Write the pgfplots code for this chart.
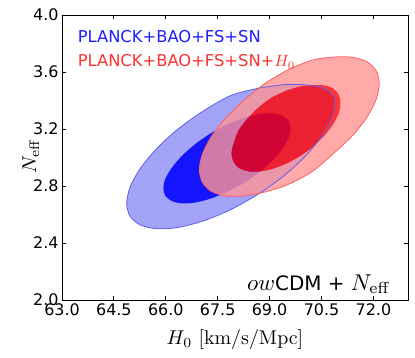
\RequirePackage{fix-cm}
\documentclass[border=0pt]{standalone}
\usepackage[no-math]{fontspec}
\setmainfont{DejaVu Sans}
\usepackage{graphicx}
\usepackage{pgfplots}
\pgfplotsset{compat=1.18}
\definecolor{bOut}{RGB}{163,163,247}
\definecolor{bIn}{RGB}{20,20,255}
\definecolor{bLine}{RGB}{95,95,240}
\definecolor{rOut}{RGB}{255,148,148}
\definecolor{rIn}{RGB}{255,0,0}
\definecolor{rLine}{RGB}{255,95,95}
\definecolor{txtBlue}{RGB}{30,30,255}
\definecolor{txtRed}{RGB}{255,50,50}
% math set at 10pt, scaled up to the reference sizes
\newcommand{\bigmath}[2]{\scalebox{#1}{\normalsize$#2$}}

\begin{document}
\begin{tikzpicture}
\useasboundingbox (-62bp,-58bp) rectangle (353bp,300bp);
\begin{axis}[
    at={(0,0)}, anchor=south west,
    scale only axis, width=346bp, height=285bp,
    xmin=63, xmax=73, ymin=2, ymax=4,
    xtick={63,64.5,66,67.5,69,70.5,72},
    xticklabels={63.0,64.5,66.0,67.5,69.0,70.5,72.0},
    ytick={2,2.4,2.8,3.2,3.6,4},
    yticklabels={2.0,2.4,2.8,3.2,3.6,4.0},
    tick align=inside, major tick length=4bp,
    tick style={black, line width=0.8bp},
    axis line style={line width=0.9bp},
    ticklabel style={font=\fontsize{16}{16}\selectfont},
    xlabel={\bigmath{2.0}{H_0\ [\mathrm{km/s/Mpc}]}},
    ylabel={\bigmath{2.0}{N_{\mathrm{eff}}}},
    xlabel style={at={(axis description cs:0.5,-0.14)}, anchor=center},
    ylabel style={at={(axis description cs:-0.09,0.505)}, anchor=center},
]
% PLANCK+BAO+FS+SN: 95% and 68% regions
\addplot[draw=none, fill=bOut, smooth] coordinates {
 (69.39,3.511) (70.01,3.511) (70.49,3.492) (70.79,3.450) (70.89,3.392)
 (70.79,3.276) (70.49,3.144) (70.01,3.004) (69.39,2.867) (68.66,2.741)
 (67.88,2.635) (67.10,2.556) (66.37,2.510) (65.75,2.500) (65.27,2.526)
 (64.97,2.587) (64.87,2.678) (64.97,2.794) (65.27,2.926) (65.75,3.066)
 (66.37,3.203) (67.10,3.329) (67.88,3.435) (68.66,3.485) (69.39,3.511)};
\addplot[draw=none, fill=bIn, smooth] coordinates {
 (67.77,3.230) (68.25,3.277) (68.69,3.304) (69.07,3.310) (69.36,3.295)
 (69.55,3.258) (69.61,3.205) (69.55,3.136) (69.36,3.058) (69.07,2.976)
 (68.69,2.895) (68.25,2.820) (67.77,2.758) (67.29,2.711) (66.85,2.684)
 (66.47,2.678) (66.18,2.694) (65.99,2.730) (65.93,2.784) (65.99,2.852)
 (66.18,2.930) (66.47,3.012) (66.85,3.094) (67.29,3.168) (67.77,3.230)};
% PLANCK+BAO+FS+SN+H0: 95% band (with hole) and 68% region
\addplot[draw=none, fill=rOut, fill opacity=0.8, even odd rule, smooth,
    unbounded coords=jump] coordinates {
 (69.57,3.621) (70.24,3.684) (70.87,3.705) (71.41,3.703) (71.82,3.671)
 (72.08,3.608) (72.17,3.518) (72.08,3.408) (71.82,3.285) (71.41,3.157)
 (70.87,3.033) (70.24,2.903) (69.57,2.814) (68.90,2.760) (68.27,2.731)
 (67.73,2.730) (67.32,2.762) (67.06,2.825) (66.97,2.915) (67.06,3.025)
 (67.32,3.148) (67.73,3.276) (68.27,3.404) (68.90,3.525) (69.57,3.621)
 (nan,nan)
 (69.48,3.469) (69.89,3.499) (70.27,3.508) (70.59,3.506) (70.84,3.483)
 (71.00,3.440) (71.05,3.382) (71.00,3.312) (70.84,3.235) (70.59,3.155)
 (70.27,3.079) (69.89,3.011) (69.48,2.957) (69.07,2.919) (68.69,2.901)
 (68.37,2.904) (68.11,2.927) (67.96,2.969) (67.90,3.027) (67.96,3.097)
 (68.11,3.193) (68.37,3.275) (68.69,3.354) (69.07,3.422) (69.48,3.469)};
\addplot[draw=none, fill=rIn, fill opacity=0.8, smooth] coordinates {
 (69.48,3.469) (69.89,3.499) (70.27,3.508) (70.59,3.506) (70.84,3.483)
 (71.00,3.440) (71.05,3.382) (71.00,3.312) (70.84,3.235) (70.59,3.155)
 (70.27,3.079) (69.89,3.011) (69.48,2.957) (69.07,2.919) (68.69,2.901)
 (68.37,2.904) (68.11,2.927) (67.96,2.969) (67.90,3.027) (67.96,3.097)
 (68.11,3.193) (68.37,3.275) (68.69,3.354) (69.07,3.422) (69.48,3.469)};
% outer contour lines
\addplot[bLine, line width=0.8bp, smooth] coordinates {
 (69.39,3.511) (70.01,3.511) (70.49,3.492) (70.79,3.450) (70.89,3.392)
 (70.79,3.276) (70.49,3.144) (70.01,3.004) (69.39,2.867) (68.66,2.741)
 (67.88,2.635) (67.10,2.556) (66.37,2.510) (65.75,2.500) (65.27,2.526)
 (64.97,2.587) (64.87,2.678) (64.97,2.794) (65.27,2.926) (65.75,3.066)
 (66.37,3.203) (67.10,3.329) (67.88,3.435) (68.66,3.485) (69.39,3.511)};
\addplot[rLine, line width=0.8bp, smooth] coordinates {
 (69.57,3.621) (70.24,3.684) (70.87,3.705) (71.41,3.703) (71.82,3.671)
 (72.08,3.608) (72.17,3.518) (72.08,3.408) (71.82,3.285) (71.41,3.157)
 (70.87,3.033) (70.24,2.903) (69.57,2.814) (68.90,2.760) (68.27,2.731)
 (67.73,2.730) (67.32,2.762) (67.06,2.825) (66.97,2.915) (67.06,3.025)
 (67.32,3.148) (67.73,3.276) (68.27,3.404) (68.90,3.525) (69.57,3.621)};

\node[anchor=base west, inner sep=0pt, text=txtBlue, font=\fontsize{16.4}{18}\selectfont]
    at (rel axis cs:0.045,0.903) {PLANCK+BAO+FS+SN};
\node[anchor=base west, inner sep=0pt, text=txtRed, font=\fontsize{16.4}{18}\selectfont]
    at (rel axis cs:0.045,0.819) {PLANCK+BAO+FS+SN+\bigmath{1.64}{H_0}};
\node[anchor=base east, inner sep=0pt, font=\fontsize{20}{22}\selectfont]
    at (rel axis cs:0.951,0.035)
    {\bigmath{2.3}{ow}CDM + \bigmath{2.3}{N_{\mathrm{eff}}}};
\end{axis}
\end{tikzpicture}
\end{document}
